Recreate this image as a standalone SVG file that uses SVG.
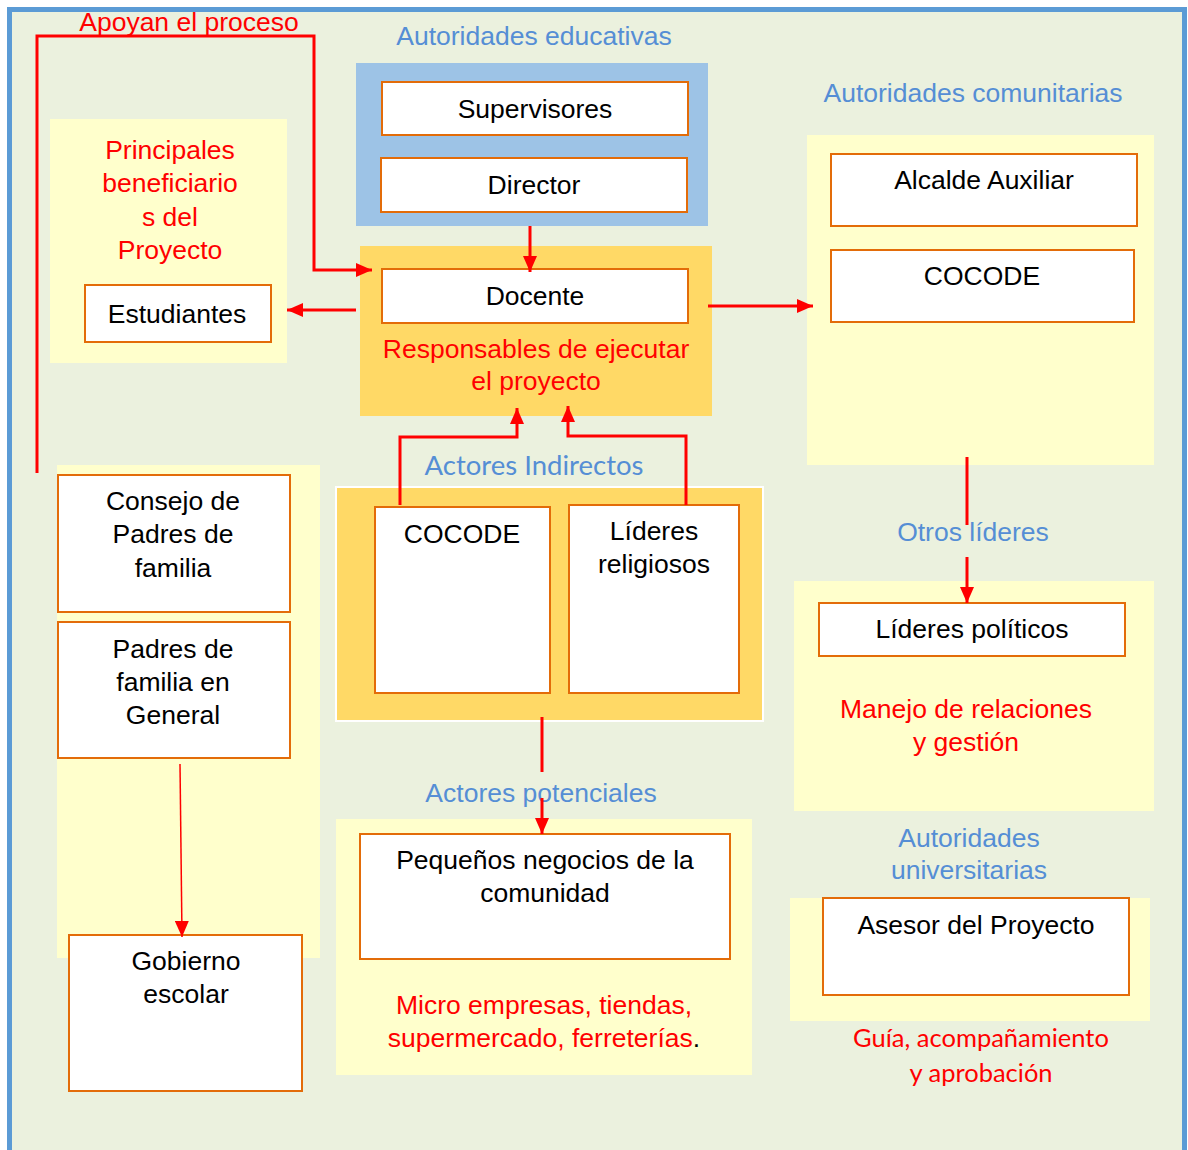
<svg xmlns="http://www.w3.org/2000/svg" width="1188" height="1150" viewBox="0 0 1188 1150">
<defs>
<style>
.bg{fill:#ebf1de;stroke:#5b9bd5;stroke-width:5}
.yel{fill:#ffffcc}
.org{fill:#ffd966}
.blu{fill:#9dc3e6}
.box{fill:#ffffff;stroke:#e36c09;stroke-width:2}
text{font-family:"Liberation Sans",Arial,sans-serif;font-size:26.5px;text-anchor:middle}
.k{fill:#000000}
.r{fill:#ff0000}
.b{fill:#558ed5}
.cal{font-family:Lato,"Open Sans",sans-serif;font-size:25.5px}
.cal2{font-family:Lato,"Open Sans",sans-serif;font-size:27.5px}
.ln{fill:none;stroke:#ff0000;stroke-width:3}
.thin{fill:none;stroke:#ff0000;stroke-width:1.5}
</style>
<marker id="ah" markerWidth="16" markerHeight="14" refX="16" refY="7" orient="auto" markerUnits="userSpaceOnUse">
<path d="M0,0 L16,7 L0,14 z" fill="#ff0000"/>
</marker>
</defs>
<rect x="0" y="0" width="1188" height="1150" fill="#ffffff"/>
<rect class="bg" x="9.5" y="9.5" width="1175" height="1165"/>

<g id="apoyan">
<text class="r" x="189" y="31">Apoyan el proceso</text>
</g>

<g id="beneficiarios">
<rect class="yel" x="50" y="119" width="237" height="244"/>
<text class="r" x="170" y="159">Principales</text>
<text class="r" x="170" y="192">beneficiario</text>
<text class="r" x="170" y="226">s del</text>
<text class="r" x="170" y="259">Proyecto</text>
</g>
<g id="estudiantes">
<rect class="box" x="85" y="285" width="186" height="57"/>
<text class="k" x="177" y="323">Estudiantes</text>
</g>

<g id="autoridades-educativas">
<text class="b" x="534" y="45">Autoridades educativas</text>
<rect class="blu" x="356" y="63" width="352" height="163"/>
</g>
<g id="supervisores">
<rect class="box" x="382" y="82" width="306" height="53"/>
<text class="k" x="535" y="118">Supervisores</text>
</g>
<g id="director">
<rect class="box" x="381" y="158" width="306" height="54"/>
<text class="k" x="534" y="194">Director</text>
</g>

<g id="responsables">
<rect class="org" x="360" y="246" width="352" height="170"/>
<text class="r" x="536" y="358">Responsables de ejecutar</text>
<text class="r" x="536" y="390">el proyecto</text>
</g>
<g id="docente">
<rect class="box" x="382" y="269" width="306" height="54"/>
<text class="k" x="535" y="305">Docente</text>
</g>

<g id="autoridades-comunitarias">
<text class="b" x="973" y="102">Autoridades comunitarias</text>
<rect class="yel" x="807" y="135" width="347" height="330"/>
</g>
<g id="alcalde">
<rect class="box" x="831" y="154" width="306" height="72"/>
<text class="k" x="984" y="189">Alcalde Auxiliar</text>
</g>
<g id="cocode-com">
<rect class="box" x="831" y="250" width="303" height="72"/>
<text class="k" x="982" y="285">COCODE</text>
</g>

<g id="actores-indirectos">
<text class="b cal2" x="534" y="475">Actores Indirectos</text>
<rect class="org" x="336" y="487" width="427" height="234" stroke="#ffffff" stroke-width="2"/>
</g>
<g id="cocode-ind">
<rect class="box" x="375" y="507" width="175" height="186"/>
<text class="k" x="462" y="543">COCODE</text>
</g>
<g id="lideres-religiosos">
<rect class="box" x="569" y="505" width="170" height="188"/>
<text class="k" x="654" y="540">Líderes</text>
<text class="k" x="654" y="573">religiosos</text>
</g>

<g id="actores-potenciales">
<text class="b" x="541" y="802">Actores potenciales</text>
<rect class="yel" x="336" y="819" width="416" height="256"/>
<text class="r" x="544" y="1014">Micro empresas, tiendas,</text>
<text x="544" y="1047"><tspan class="r">supermercado, ferreterías</tspan><tspan class="k">.</tspan></text>
</g>
<g id="pequenos">
<rect class="box" x="360" y="834" width="370" height="125"/>
<text class="k" x="545" y="869">Pequeños negocios de la</text>
<text class="k" x="545" y="902">comunidad</text>
</g>

<g id="otros-lideres">
<text class="b" x="973" y="541">Otros líderes</text>
<rect class="yel" x="794" y="581" width="360" height="230"/>
<text class="r" x="966" y="718">Manejo de relaciones</text>
<text class="r" x="966" y="751">y gestión</text>
</g>
<g id="lideres-politicos">
<rect class="box" x="819" y="603" width="306" height="53"/>
<text class="k" x="972" y="638">Líderes políticos</text>
</g>

<g id="autoridades-universitarias">
<text class="b" x="969" y="847">Autoridades</text>
<text class="b" x="969" y="879">universitarias</text>
<rect class="yel" x="790" y="898" width="360" height="123"/>
<text class="r cal" x="981" y="1047">Guía, acompañamiento</text>
<text class="r cal" x="981" y="1082">y aprobación</text>
</g>
<g id="asesor">
<rect class="box" x="823" y="898" width="306" height="97"/>
<text class="k" x="976" y="934">Asesor del Proyecto</text>
</g>

<g id="padres-col">
<rect class="yel" x="57" y="465" width="263" height="493"/>
</g>
<g id="consejo">
<rect class="box" x="58" y="475" width="232" height="137"/>
<text class="k" x="173" y="510">Consejo de</text>
<text class="k" x="173" y="543">Padres de</text>
<text class="k" x="173" y="577">familia</text>
</g>
<g id="padres-general">
<rect class="box" x="58" y="622" width="232" height="136"/>
<text class="k" x="173" y="658">Padres de</text>
<text class="k" x="173" y="691">familia en</text>
<text class="k" x="173" y="724">General</text>
</g>
<g id="gobierno">
<rect class="box" x="69" y="935" width="233" height="156"/>
<text class="k" x="186" y="970">Gobierno</text>
<text class="k" x="186" y="1003">escolar</text>
</g>

<g id="connectors">
<path class="ln" d="M37,473 V36 H314 V270 H372" marker-end="url(#ah)"/>
<path class="ln" d="M356,310 H287" marker-end="url(#ah)"/>
<path class="ln" d="M530,226 V272" marker-end="url(#ah)"/>
<path class="ln" d="M708,306 H813" marker-end="url(#ah)"/>
<path class="ln" d="M400,505 V437 H517 V408" marker-end="url(#ah)"/>
<path class="ln" d="M686,505 V436 H568 V406" marker-end="url(#ah)"/>
<path class="ln" d="M542,717 V772"/>
<path class="ln" d="M542,798 V834" marker-end="url(#ah)"/>
<path class="ln" d="M967,457 V525"/>
<path class="ln" d="M967,557 V603" marker-end="url(#ah)"/>
<path class="thin" d="M180,764 L182,937" marker-end="url(#ah)"/>
</g>
</svg>
